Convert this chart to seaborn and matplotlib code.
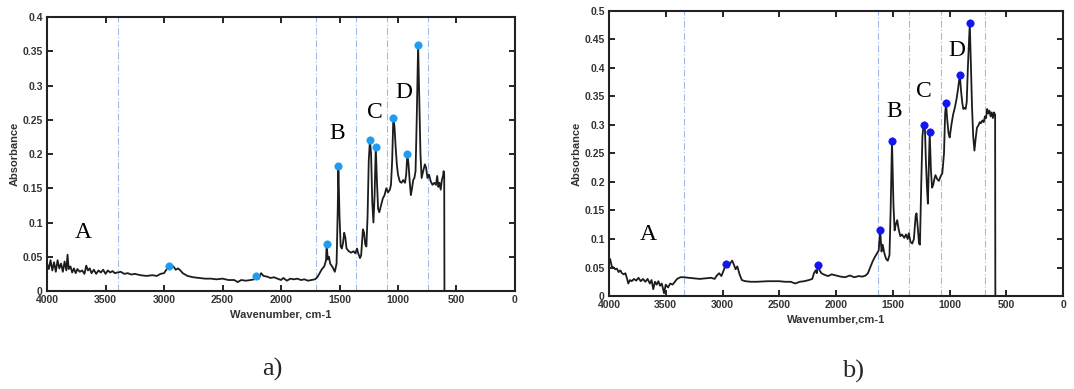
import matplotlib
matplotlib.use("Agg")
import matplotlib.pyplot as plt
import seaborn as sns
import pandas as pd

# ---------------- data: panel a ----------------
wn_a = [4000, 3985, 3970, 3955, 3940, 3925, 3910, 3895, 3880, 3865, 3850, 3835, 3825, 3815, 3800,
        3785, 3770, 3755, 3740, 3720, 3700, 3680, 3665, 3650, 3635, 3620, 3600, 3580, 3560, 3540,
        3520, 3500, 3480, 3460, 3440, 3420, 3400, 3370, 3340, 3310, 3280, 3250, 3200, 3150, 3100,
        3060, 3030, 3000, 2980, 2960, 2940, 2920, 2900, 2880, 2860, 2840, 2800, 2750, 2700, 2650,
        2600, 2550, 2500, 2450, 2400, 2370, 2340, 2300, 2260, 2230, 2210, 2190, 2170, 2150, 2120,
        2090, 2060, 2030, 2000, 1980, 1950, 1920, 1890, 1860, 1830, 1800, 1770, 1740, 1710, 1690,
        1670, 1650, 1630, 1615, 1610, 1600, 1590, 1580, 1560, 1540, 1525, 1515, 1510, 1500, 1490,
        1480, 1470, 1460, 1450, 1440, 1420, 1400, 1380, 1365, 1350, 1340, 1325, 1315, 1300, 1290,
        1280, 1270, 1260, 1250, 1240, 1230, 1220, 1210, 1200, 1190, 1180, 1170, 1160, 1145, 1130,
        1115, 1100, 1085, 1070, 1060, 1050, 1040, 1030, 1020, 1010, 1000, 985, 970, 955, 940,
        930, 920, 910, 900, 890, 880, 870, 860, 850, 840, 828, 818, 808, 798, 785,
        770, 760, 748, 735, 720, 705, 690, 675, 665, 655, 645, 635, 625, 615, 610,
        605, 603, 400]
abs_a = [0.040, 0.032, 0.045, 0.030, 0.042, 0.028, 0.045, 0.033, 0.040, 0.028, 0.043, 0.030, 0.053, 0.032, 0.036,
         0.027, 0.033, 0.026, 0.032, 0.028, 0.030, 0.025, 0.037, 0.030, 0.033, 0.026, 0.031, 0.025, 0.030, 0.027,
         0.031, 0.025, 0.030, 0.027, 0.029, 0.026, 0.027, 0.028, 0.025, 0.026, 0.024, 0.025, 0.023, 0.022, 0.023,
         0.022, 0.025, 0.026, 0.031, 0.037, 0.034, 0.036, 0.031, 0.033, 0.030, 0.026, 0.022, 0.020, 0.019, 0.018,
         0.018, 0.017, 0.018, 0.016, 0.016, 0.013, 0.016, 0.015, 0.016, 0.017, 0.022, 0.018, 0.026, 0.022, 0.021,
         0.019, 0.020, 0.018, 0.016, 0.019, 0.015, 0.018, 0.017, 0.018, 0.016, 0.017, 0.015, 0.016, 0.017, 0.020,
         0.026, 0.032, 0.036, 0.045, 0.068, 0.046, 0.050, 0.040, 0.035, 0.028, 0.040, 0.120, 0.183, 0.110, 0.065,
         0.062, 0.070, 0.085, 0.078, 0.062, 0.058, 0.056, 0.058, 0.055, 0.062, 0.055, 0.048, 0.052, 0.090, 0.085,
         0.068, 0.065, 0.110, 0.190, 0.220, 0.200, 0.130, 0.100, 0.140, 0.210, 0.160, 0.120, 0.115, 0.125, 0.135,
         0.140, 0.150, 0.144, 0.148, 0.155, 0.190, 0.252, 0.240, 0.210, 0.185, 0.170, 0.160, 0.158, 0.162, 0.158,
         0.170, 0.200, 0.185, 0.160, 0.140, 0.150, 0.162, 0.165, 0.175, 0.250, 0.360, 0.280, 0.200, 0.165, 0.175,
         0.185, 0.180, 0.165, 0.170, 0.160, 0.155, 0.158, 0.155, 0.168, 0.152, 0.158, 0.148, 0.162, 0.168, 0.175,
         0.170, 0.0, 0.0]
peak_wn_a = [2960, 2210, 1610, 1510, 1240, 1190, 1040, 920, 828]
peak_abs_a = [0.037, 0.022, 0.068, 0.183, 0.220, 0.210, 0.252, 0.200, 0.360]
vline_a = [3390, 1705, 1355, 1090, 740]
letters_a = ["A", "B", "C", "D"]
letter_wn_a = [3690, 1517, 1196, 954]
letter_y_a = [0.070, 0.215, 0.245, 0.275]

# ---------------- data: panel b ----------------
wn_b = [4000, 3990, 3975, 3960, 3945, 3930, 3915, 3900, 3885, 3870, 3855, 3840, 3830, 3815, 3800,
        3780, 3760, 3740, 3720, 3700, 3680, 3660, 3640, 3625, 3610, 3595, 3580, 3565, 3550, 3535,
        3515, 3500, 3480, 3460, 3440, 3420, 3400, 3370, 3340, 3300, 3250, 3200, 3150, 3100, 3070,
        3050, 3030, 3010, 2990, 2970, 2950, 2930, 2915, 2900, 2885, 2870, 2850, 2830, 2800, 2750,
        2700, 2600, 2500, 2450, 2400, 2360, 2320, 2280, 2240, 2210, 2195, 2180, 2170, 2160, 2145,
        2130, 2100, 2070, 2040, 2000, 1960, 1920, 1880, 1840, 1800, 1770, 1740, 1720, 1700, 1680,
        1660, 1640, 1625, 1612, 1600, 1590, 1575, 1560, 1545, 1530, 1520, 1508, 1495, 1485, 1475,
        1462, 1450, 1435, 1420, 1400, 1385, 1370, 1360, 1345, 1330, 1315, 1300, 1292, 1280, 1270,
        1262, 1250, 1240, 1230, 1218, 1210, 1200, 1192, 1185, 1176, 1165, 1155, 1145, 1135, 1125,
        1110, 1095, 1080, 1065, 1050, 1040, 1032, 1022, 1010, 1000, 985, 970, 955, 940, 925,
        911, 900, 890, 880, 870, 860, 850, 840, 823, 812, 803, 793, 782, 772, 760,
        745, 735, 725, 712, 700, 690, 680, 670, 660, 650, 640, 630, 620, 610, 600,
        598, 400]
abs_b = [0.060, 0.065, 0.052, 0.050, 0.047, 0.048, 0.042, 0.045, 0.040, 0.038, 0.040, 0.030, 0.022, 0.028, 0.026,
         0.030, 0.027, 0.032, 0.026, 0.030, 0.025, 0.030, 0.022, 0.028, 0.012, 0.025, 0.020, 0.026, 0.018, 0.022,
         0.005, 0.020, 0.015, 0.022, 0.020, 0.025, 0.030, 0.033, 0.033, 0.032, 0.031, 0.030, 0.031, 0.032, 0.030,
         0.036, 0.040, 0.035, 0.045, 0.056, 0.050, 0.058, 0.062, 0.055, 0.047, 0.052, 0.038, 0.028, 0.026, 0.025,
         0.025, 0.026, 0.026, 0.025, 0.025, 0.022, 0.025, 0.026, 0.028, 0.030, 0.040, 0.045, 0.040, 0.055, 0.045,
         0.040, 0.037, 0.035, 0.038, 0.036, 0.034, 0.033, 0.036, 0.033, 0.035, 0.034, 0.036, 0.040, 0.050, 0.060,
         0.068, 0.075, 0.080, 0.115, 0.078, 0.090, 0.075, 0.065, 0.062, 0.072, 0.150, 0.272, 0.160, 0.115, 0.125,
         0.133, 0.118, 0.105, 0.108, 0.102, 0.108, 0.100, 0.110, 0.095, 0.092, 0.100, 0.140, 0.145, 0.118, 0.092,
         0.090, 0.200, 0.280, 0.300, 0.295, 0.240, 0.190, 0.162, 0.220, 0.287, 0.220, 0.190, 0.195, 0.205, 0.212,
         0.205, 0.202, 0.210, 0.215, 0.250, 0.320, 0.338, 0.310, 0.285, 0.278, 0.300, 0.318, 0.330, 0.345, 0.365,
         0.388, 0.360, 0.340, 0.328, 0.330, 0.328, 0.340, 0.400, 0.478, 0.400, 0.330, 0.280, 0.255, 0.275, 0.295,
         0.300, 0.305, 0.303, 0.308, 0.305, 0.315, 0.312, 0.328, 0.320, 0.325, 0.315, 0.322, 0.312, 0.322, 0.318,
         0.0, 0.0]
peak_wn_b = [2970, 2160, 1612, 1508, 1230, 1176, 1032, 911, 823]
peak_abs_b = [0.056, 0.055, 0.115, 0.272, 0.300, 0.287, 0.338, 0.388, 0.478]
vline_b = [3335, 1630, 1355, 1073, 685]
letters_b = ["A", "B", "C", "D"]
letter_wn_b = [3655, 1493, 1223, 935]
letter_y_b = [0.090, 0.305, 0.340, 0.412]

x_ticks = [4000, 3500, 3000, 2500, 2000, 1500, 1000, 500, 0]
y_ticks_a = [0, 0.05, 0.1, 0.15, 0.2, 0.25, 0.3, 0.35, 0.4]
y_ticks_b = [0, 0.05, 0.1, 0.15, 0.2, 0.25, 0.3, 0.35, 0.4, 0.45, 0.5]
xlabel_a = "Wavenumber, cm-1"
xlabel_b = "Wavenumber,cm-1"
ylabel = "Absorbance"
panel_labels = ["a)", "b)"]

# ---------------- drawing ----------------
sns.set_theme(style="ticks")
plt.rcParams["font.family"] = ["Liberation Sans Narrow", "Liberation Sans", "DejaVu Sans"]

fig = plt.figure(figsize=(10.74, 3.89), dpi=100)
ax_a = fig.add_axes([0.0438, 0.252, 0.4357, 0.704])
ax_b = fig.add_axes([0.567, 0.239, 0.423, 0.733])

serif = ["Liberation Serif", "DejaVu Serif"]


def fmt(v):
    return "0" if v == 0 else ("%g" % v)


def draw(ax, wn, ab, pwn, pab, vls, lw, ly, lets, yt, xlabel, mcolor):
    df = pd.DataFrame({"wn": wn, "abs": ab})
    for v in vls:
        ax.axvline(v, color="#9db8ea", lw=0.8, ls=(0, (6, 2, 1, 2)), zorder=1)
    sns.lineplot(data=df, x="wn", y="abs", ax=ax, sort=False, estimator=None,
                 color="#1c1c1c", lw=1.3, zorder=2)
    pdf = pd.DataFrame({"wn": pwn, "abs": pab})
    sns.scatterplot(data=pdf, x="wn", y="abs", ax=ax, color=mcolor, s=28,
                    edgecolor=mcolor, linewidth=0.5, zorder=3)
    for t, x, y in zip(lets, lw, ly):
        ax.text(x, y, t, family=serif, fontsize=17, ha="center", va="bottom", color="black")
    ax.set_xlim(4000, 0)
    ax.set_ylim(0, yt[-1])
    ax.set_xticks(x_ticks)
    ax.set_xticklabels([str(t) for t in x_ticks])
    ax.set_yticks(yt)
    ax.set_yticklabels([fmt(t) for t in yt])
    ax.tick_params(direction="in", length=4, width=1.2, top=True, right=True,
                   labelsize=7.5, colors="black", pad=3)
    for lab in ax.get_xticklabels() + ax.get_yticklabels():
        lab.set_fontweight("bold")
        lab.set_color("#333333")
    for s in ax.spines.values():
        s.set_visible(True)
        s.set_linewidth(1.5)
        s.set_color("#222222")
    ax.set_xlabel(xlabel, fontsize=8, fontweight="bold", color="#333333", labelpad=3)
    ax.set_ylabel(ylabel, fontsize=8, fontweight="bold", color="#333333", labelpad=2)


draw(ax_a, wn_a, abs_a, peak_wn_a, peak_abs_a, vline_a, letter_wn_a, letter_y_a,
     letters_a, y_ticks_a, xlabel_a, "#1f9cf0")
draw(ax_b, wn_b, abs_b, peak_wn_b, peak_abs_b, vline_b, letter_wn_b, letter_y_b,
     letters_b, y_ticks_b, xlabel_b, "#1414f0")

fig.text(0.254, 0.05, panel_labels[0], family=serif, fontsize=19, ha="center", va="center")
fig.text(0.794, 0.045, panel_labels[1], family=serif, fontsize=19, ha="center", va="center")

fig.savefig("out.png", dpi=100)
